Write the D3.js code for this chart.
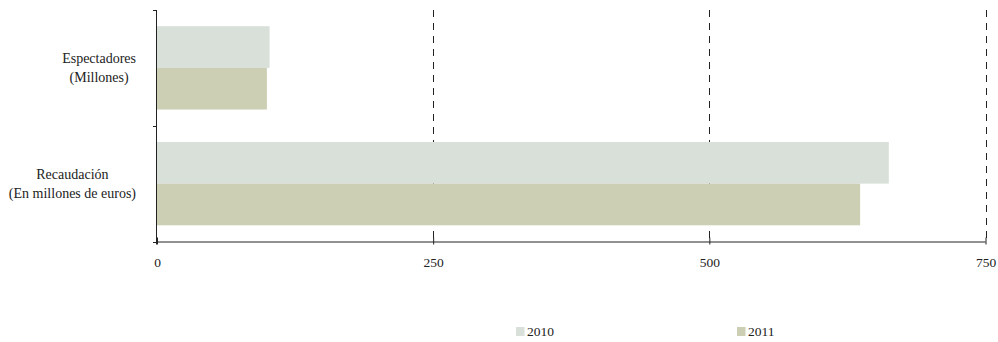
<!DOCTYPE html>
<html>
<head>
<meta charset="utf-8">
<script src="https://cdn.jsdelivr.net/npm/d3@7"></script>
<style>
  html, body { margin: 0; padding: 0; background: #fff; }
</style>
</head>
<body>
<svg id="chart" width="998" height="342" font-family="Liberation Serif" font-size="13.5"></svg>
<script>
const categories = [["Espectadores", "(Millones)"], ["Recaudación", "(En millones de euros)"]];
const seriesNames = ["2010", "2011"];
const values2010 = [101.9, 662.5];
const values2011 = [99.5, 636.5];
const xTicks = [0, 250, 500, 750];
const colors = ["#d9e0da", "#cdcfb4"];

const FONT = "Liberation Serif";
const svg = d3.select("#chart");
const margin = { left: 157, top: 10 };
const plotBottom = 241.5;

const x = d3.scaleLinear().domain([0, 750]).range([margin.left, 985.5]);
const y = d3.scaleBand().domain(d3.range(categories.length)).range([margin.top, plotBottom]).paddingInner(0.28).paddingOuter(0.14);
const sub = d3.scaleBand().domain(seriesNames).range([0, y.bandwidth()]);

// gridlines
svg.append("g").selectAll("line").data(xTicks.filter(d => d > 0)).join("line")
  .attr("x1", d => Math.round(x(d)) + 0.5).attr("x2", d => Math.round(x(d)) + 0.5)
  .attr("y1", margin.top).attr("y2", plotBottom)
  .attr("stroke", "#222").attr("stroke-width", 1).attr("stroke-dasharray", "7,6");

// bars
const series = [values2010, values2011];
series.forEach((vals, si) => {
  svg.append("g").selectAll("rect").data(vals).join("rect")
    .attr("x", x(0))
    .attr("y", (d, i) => y(i) + sub(seriesNames[si]))
    .attr("width", d => x(d) - x(0))
    .attr("height", sub.bandwidth())
    .attr("fill", colors[si]);
});

// x axis
const xAxis = d3.axisBottom(x).tickValues(xTicks).tickSize(4).tickPadding(12).tickFormat(d3.format("d"));
const gx = svg.append("g").attr("transform", `translate(0,${plotBottom})`).call(xAxis)
  .attr("font-family", FONT).attr("font-size", 13.5);
gx.select(".domain").attr("stroke", "#222").attr("d", `M${x(0)},0.5H${x(750)}`);
gx.selectAll(".tick line").attr("stroke", "#222").attr("y1", -4).attr("y2", 3);
gx.selectAll(".tick text").attr("fill", "#222");

// y axis line and ticks at band boundaries
const bounds = [margin.top, (y(0) + y.bandwidth() + y(1)) / 2, plotBottom];
svg.append("line").attr("x1", x(0) - 0.5).attr("x2", x(0) - 0.5).attr("y1", margin.top).attr("y2", plotBottom + 3).attr("stroke", "#222");
svg.append("g").selectAll("line").data(bounds).join("line")
  .attr("x1", x(0) - 4).attr("x2", x(0)).attr("y1", d => Math.round(d) + 0.5).attr("y2", d => Math.round(d) + 0.5)
  .attr("stroke", "#222");

// category labels
categories.forEach((lines, i) => {
  const g = svg.append("g").attr("font-family", FONT).attr("font-size", 14);
  const cy = y(i) + y.bandwidth() / 2;
  const texts = g.selectAll("text").data(lines).join("text")
    .attr("y", (d, j) => cy - 4.5 + j * 19)
    .attr("text-anchor", "middle")
    .attr("fill", "#222")
    .text(d => d);
  let maxW = 0;
  texts.each(function () { maxW = Math.max(maxW, this.getComputedTextLength()); });
  texts.attr("x", 136 - maxW / 2);
});

// legend
const legendX = [516, 737];
seriesNames.forEach((name, i) => {
  const g = svg.append("g").attr("transform", `translate(${legendX[i]},327)`).attr("font-family", FONT).attr("font-size", 13.5);
  g.append("rect").attr("width", 8.5).attr("height", 9).attr("fill", colors[i]);
  g.append("text").attr("x", 11).attr("y", 9.3).attr("fill", "#222").text(name);
});
</script>
</body>
</html>
